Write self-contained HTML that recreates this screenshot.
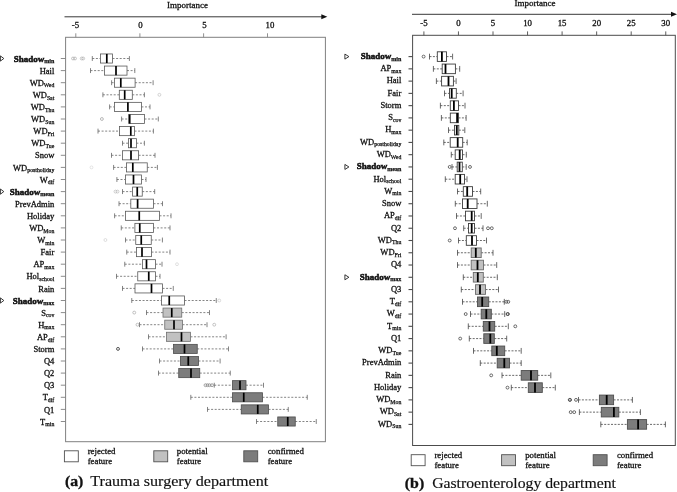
<!DOCTYPE html>
<html><head><meta charset="utf-8"><title>Feature importance</title>
<style>
html,body{margin:0;padding:0;background:#fff;}
body{width:677px;height:492px;overflow:hidden;font-family:"Liberation Serif", serif;}
svg{display:block;will-change:transform;}
text{font-family:"Liberation Serif", serif;}
</style></head><body>
<svg width="677" height="492" viewBox="0 0 677 492" font-family='"Liberation Serif", serif' fill="#111">
<rect width="677" height="492" fill="#fff"/>
<rect x="65.6" y="37.3" width="259.79999999999995" height="404.4" fill="none" stroke="#808080" stroke-width="1"/>
<line x1="60.8" y1="58.50" x2="65.6" y2="58.50" stroke="#808080" stroke-width="0.9"/>
<line x1="92.3" y1="58.50" x2="100.4" y2="58.50" stroke="#646464" stroke-width="0.8" stroke-dasharray="2 1.6"/>
<line x1="112.5" y1="58.50" x2="129.4" y2="58.50" stroke="#646464" stroke-width="0.8" stroke-dasharray="2 1.6"/>
<line x1="92.3" y1="56.05" x2="92.3" y2="60.95" stroke="#646464" stroke-width="0.8"/>
<line x1="129.4" y1="56.05" x2="129.4" y2="60.95" stroke="#646464" stroke-width="0.8"/>
<rect x="100.4" y="53.95" width="12.10" height="9.1" fill="#ffffff" stroke="#585858" stroke-width="0.8"/>
<line x1="106.8" y1="53.95" x2="106.8" y2="63.05" stroke="#000" stroke-width="1.7"/>
<circle cx="73" cy="58.50" r="1.45" fill="none" stroke="#a0a0a0" stroke-width="0.6"/>
<circle cx="75" cy="58.50" r="1.45" fill="none" stroke="#a0a0a0" stroke-width="0.6"/>
<circle cx="81.7" cy="58.50" r="1.45" fill="none" stroke="#a8a8a8" stroke-width="0.6"/>
<circle cx="83.2" cy="58.50" r="1.45" fill="none" stroke="#a8a8a8" stroke-width="0.6"/>
<text x="54.3" y="61.60" text-anchor="end" font-size="9.0" font-weight="bold" stroke="#111" stroke-width="0.5">Shadow<tspan dy="1.6" font-size="6.0" stroke-width="0.25">min</tspan></text>
<path d="M0.4 55.90 L3.8 58.50 L0.4 61.10 Z" fill="none" stroke="#222" stroke-width="0.9"/>
<line x1="60.8" y1="70.60" x2="65.6" y2="70.60" stroke="#808080" stroke-width="0.9"/>
<line x1="90.5" y1="70.60" x2="104.5" y2="70.60" stroke="#646464" stroke-width="0.8" stroke-dasharray="2 1.6"/>
<line x1="127" y1="70.60" x2="134.8" y2="70.60" stroke="#646464" stroke-width="0.8" stroke-dasharray="2 1.6"/>
<line x1="90.5" y1="68.15" x2="90.5" y2="73.05" stroke="#646464" stroke-width="0.8"/>
<line x1="134.8" y1="68.15" x2="134.8" y2="73.05" stroke="#646464" stroke-width="0.8"/>
<rect x="104.5" y="66.05" width="22.50" height="9.1" fill="#ffffff" stroke="#585858" stroke-width="0.8"/>
<line x1="116" y1="66.05" x2="116" y2="75.15" stroke="#000" stroke-width="1.7"/>
<text x="54.3" y="73.70" text-anchor="end" font-size="8.5" stroke="#111" stroke-width="0.3">Hail</text>
<line x1="60.8" y1="82.70" x2="65.6" y2="82.70" stroke="#808080" stroke-width="0.9"/>
<line x1="111.6" y1="82.70" x2="114.4" y2="82.70" stroke="#646464" stroke-width="0.8" stroke-dasharray="2 1.6"/>
<line x1="135.1" y1="82.70" x2="153.1" y2="82.70" stroke="#646464" stroke-width="0.8" stroke-dasharray="2 1.6"/>
<line x1="111.6" y1="80.25" x2="111.6" y2="85.15" stroke="#646464" stroke-width="0.8"/>
<line x1="153.1" y1="80.25" x2="153.1" y2="85.15" stroke="#646464" stroke-width="0.8"/>
<rect x="114.4" y="78.15" width="20.70" height="9.1" fill="#ffffff" stroke="#585858" stroke-width="0.8"/>
<line x1="120.8" y1="78.15" x2="120.8" y2="87.25" stroke="#000" stroke-width="1.7"/>
<text x="54.3" y="85.80" text-anchor="end" font-size="8.5" stroke="#111" stroke-width="0.3">WD<tspan dy="1.6" font-size="5.8" stroke-width="0.25">Wed</tspan></text>
<line x1="60.8" y1="94.80" x2="65.6" y2="94.80" stroke="#808080" stroke-width="0.9"/>
<line x1="102.9" y1="94.80" x2="119.3" y2="94.80" stroke="#646464" stroke-width="0.8" stroke-dasharray="2 1.6"/>
<line x1="132.3" y1="94.80" x2="144.4" y2="94.80" stroke="#646464" stroke-width="0.8" stroke-dasharray="2 1.6"/>
<line x1="102.9" y1="92.35" x2="102.9" y2="97.25" stroke="#646464" stroke-width="0.8"/>
<line x1="144.4" y1="92.35" x2="144.4" y2="97.25" stroke="#646464" stroke-width="0.8"/>
<rect x="119.3" y="90.25" width="13.00" height="9.1" fill="#ffffff" stroke="#585858" stroke-width="0.8"/>
<line x1="124.7" y1="90.25" x2="124.7" y2="99.35" stroke="#000" stroke-width="1.7"/>
<circle cx="159.4" cy="94.80" r="1.45" fill="none" stroke="#b8b8b8" stroke-width="0.6"/>
<text x="54.3" y="97.90" text-anchor="end" font-size="8.5" stroke="#111" stroke-width="0.3">WD<tspan dy="1.6" font-size="5.8" stroke-width="0.25">Sat</tspan></text>
<line x1="60.8" y1="106.90" x2="65.6" y2="106.90" stroke="#808080" stroke-width="0.9"/>
<line x1="109.6" y1="106.90" x2="114.4" y2="106.90" stroke="#646464" stroke-width="0.8" stroke-dasharray="2 1.6"/>
<line x1="141.4" y1="106.90" x2="150" y2="106.90" stroke="#646464" stroke-width="0.8" stroke-dasharray="2 1.6"/>
<line x1="109.6" y1="104.45" x2="109.6" y2="109.35" stroke="#646464" stroke-width="0.8"/>
<line x1="150" y1="104.45" x2="150" y2="109.35" stroke="#646464" stroke-width="0.8"/>
<rect x="114.4" y="102.35" width="27.00" height="9.1" fill="#ffffff" stroke="#585858" stroke-width="0.8"/>
<line x1="127.9" y1="102.35" x2="127.9" y2="111.45" stroke="#000" stroke-width="1.7"/>
<text x="54.3" y="110.00" text-anchor="end" font-size="8.5" stroke="#111" stroke-width="0.3">WD<tspan dy="1.6" font-size="5.8" stroke-width="0.25">Thu</tspan></text>
<line x1="60.8" y1="119.00" x2="65.6" y2="119.00" stroke="#808080" stroke-width="0.9"/>
<line x1="121.6" y1="119.00" x2="128.7" y2="119.00" stroke="#646464" stroke-width="0.8" stroke-dasharray="2 1.6"/>
<line x1="144.5" y1="119.00" x2="158.3" y2="119.00" stroke="#646464" stroke-width="0.8" stroke-dasharray="2 1.6"/>
<line x1="121.6" y1="116.55" x2="121.6" y2="121.45" stroke="#646464" stroke-width="0.8"/>
<line x1="158.3" y1="116.55" x2="158.3" y2="121.45" stroke="#646464" stroke-width="0.8"/>
<rect x="128.7" y="114.45" width="15.80" height="9.1" fill="#ffffff" stroke="#585858" stroke-width="0.8"/>
<line x1="129.7" y1="114.45" x2="129.7" y2="123.55" stroke="#000" stroke-width="1.7"/>
<circle cx="101.9" cy="119.00" r="1.45" fill="none" stroke="#8c8c8c" stroke-width="0.6"/>
<text x="54.3" y="122.10" text-anchor="end" font-size="8.5" stroke="#111" stroke-width="0.3">WD<tspan dy="1.6" font-size="5.8" stroke-width="0.25">Sun</tspan></text>
<line x1="60.8" y1="131.10" x2="65.6" y2="131.10" stroke="#808080" stroke-width="0.9"/>
<line x1="98" y1="131.10" x2="119.5" y2="131.10" stroke="#646464" stroke-width="0.8" stroke-dasharray="2 1.6"/>
<line x1="134.5" y1="131.10" x2="153.4" y2="131.10" stroke="#646464" stroke-width="0.8" stroke-dasharray="2 1.6"/>
<line x1="98" y1="128.65" x2="98" y2="133.55" stroke="#646464" stroke-width="0.8"/>
<line x1="153.4" y1="128.65" x2="153.4" y2="133.55" stroke="#646464" stroke-width="0.8"/>
<rect x="119.5" y="126.55" width="15.00" height="9.1" fill="#ffffff" stroke="#585858" stroke-width="0.8"/>
<line x1="130.8" y1="126.55" x2="130.8" y2="135.65" stroke="#000" stroke-width="1.7"/>
<text x="54.3" y="134.20" text-anchor="end" font-size="8.5" stroke="#111" stroke-width="0.3">WD<tspan dy="1.6" font-size="5.8" stroke-width="0.25">Fri</tspan></text>
<line x1="60.8" y1="143.20" x2="65.6" y2="143.20" stroke="#808080" stroke-width="0.9"/>
<line x1="122.5" y1="143.20" x2="128.4" y2="143.20" stroke="#646464" stroke-width="0.8" stroke-dasharray="2 1.6"/>
<line x1="136.4" y1="143.20" x2="144.4" y2="143.20" stroke="#646464" stroke-width="0.8" stroke-dasharray="2 1.6"/>
<line x1="122.5" y1="140.75" x2="122.5" y2="145.65" stroke="#646464" stroke-width="0.8"/>
<line x1="144.4" y1="140.75" x2="144.4" y2="145.65" stroke="#646464" stroke-width="0.8"/>
<rect x="128.4" y="138.65" width="8.00" height="9.1" fill="#ffffff" stroke="#585858" stroke-width="0.8"/>
<line x1="131" y1="138.65" x2="131" y2="147.75" stroke="#000" stroke-width="1.7"/>
<text x="54.3" y="146.30" text-anchor="end" font-size="8.5" stroke="#111" stroke-width="0.3">WD<tspan dy="1.6" font-size="5.8" stroke-width="0.25">Tue</tspan></text>
<line x1="60.8" y1="155.30" x2="65.6" y2="155.30" stroke="#808080" stroke-width="0.9"/>
<line x1="111.5" y1="155.30" x2="122.5" y2="155.30" stroke="#646464" stroke-width="0.8" stroke-dasharray="2 1.6"/>
<line x1="138.6" y1="155.30" x2="155" y2="155.30" stroke="#646464" stroke-width="0.8" stroke-dasharray="2 1.6"/>
<line x1="111.5" y1="152.85" x2="111.5" y2="157.75" stroke="#646464" stroke-width="0.8"/>
<line x1="155" y1="152.85" x2="155" y2="157.75" stroke="#646464" stroke-width="0.8"/>
<rect x="122.5" y="150.75" width="16.10" height="9.1" fill="#ffffff" stroke="#585858" stroke-width="0.8"/>
<line x1="131" y1="150.75" x2="131" y2="159.85" stroke="#000" stroke-width="1.7"/>
<text x="54.3" y="158.40" text-anchor="end" font-size="8.5" stroke="#111" stroke-width="0.3">Snow</text>
<line x1="60.8" y1="167.40" x2="65.6" y2="167.40" stroke="#808080" stroke-width="0.9"/>
<line x1="113.6" y1="167.40" x2="126.5" y2="167.40" stroke="#646464" stroke-width="0.8" stroke-dasharray="2 1.6"/>
<line x1="147.25" y1="167.40" x2="157.4" y2="167.40" stroke="#646464" stroke-width="0.8" stroke-dasharray="2 1.6"/>
<line x1="113.6" y1="164.95" x2="113.6" y2="169.85" stroke="#646464" stroke-width="0.8"/>
<line x1="157.4" y1="164.95" x2="157.4" y2="169.85" stroke="#646464" stroke-width="0.8"/>
<rect x="126.5" y="162.85" width="20.75" height="9.1" fill="#ffffff" stroke="#585858" stroke-width="0.8"/>
<line x1="132.8" y1="162.85" x2="132.8" y2="171.95" stroke="#000" stroke-width="1.7"/>
<circle cx="91.5" cy="167.40" r="1.45" fill="none" stroke="#d4d4d4" stroke-width="0.6"/>
<text x="54.3" y="170.50" text-anchor="end" font-size="8.5" stroke="#111" stroke-width="0.3">WD<tspan dy="1.6" font-size="5.8" stroke-width="0.25">postholiday</tspan></text>
<line x1="60.8" y1="179.50" x2="65.6" y2="179.50" stroke="#808080" stroke-width="0.9"/>
<line x1="116.9" y1="179.50" x2="125.5" y2="179.50" stroke="#646464" stroke-width="0.8" stroke-dasharray="2 1.6"/>
<line x1="141.5" y1="179.50" x2="146" y2="179.50" stroke="#646464" stroke-width="0.8" stroke-dasharray="2 1.6"/>
<line x1="116.9" y1="177.05" x2="116.9" y2="181.95" stroke="#646464" stroke-width="0.8"/>
<line x1="146" y1="177.05" x2="146" y2="181.95" stroke="#646464" stroke-width="0.8"/>
<rect x="125.5" y="174.95" width="16.00" height="9.1" fill="#ffffff" stroke="#585858" stroke-width="0.8"/>
<line x1="133.5" y1="174.95" x2="133.5" y2="184.05" stroke="#000" stroke-width="1.7"/>
<text x="54.3" y="182.60" text-anchor="end" font-size="8.5" stroke="#111" stroke-width="0.3">W<tspan dy="1.6" font-size="5.8" stroke-width="0.25">dif</tspan></text>
<line x1="60.8" y1="191.60" x2="65.6" y2="191.60" stroke="#808080" stroke-width="0.9"/>
<line x1="122.5" y1="191.60" x2="132.6" y2="191.60" stroke="#646464" stroke-width="0.8" stroke-dasharray="2 1.6"/>
<line x1="142.25" y1="191.60" x2="154.7" y2="191.60" stroke="#646464" stroke-width="0.8" stroke-dasharray="2 1.6"/>
<line x1="122.5" y1="189.15" x2="122.5" y2="194.05" stroke="#646464" stroke-width="0.8"/>
<line x1="154.7" y1="189.15" x2="154.7" y2="194.05" stroke="#646464" stroke-width="0.8"/>
<rect x="132.6" y="187.05" width="9.65" height="9.1" fill="#ffffff" stroke="#585858" stroke-width="0.8"/>
<line x1="137.25" y1="187.05" x2="137.25" y2="196.15" stroke="#000" stroke-width="1.7"/>
<circle cx="115.5" cy="191.60" r="1.45" fill="none" stroke="#b0b0b0" stroke-width="0.6"/>
<circle cx="117.5" cy="191.60" r="1.45" fill="none" stroke="#b0b0b0" stroke-width="0.6"/>
<text x="54.3" y="194.70" text-anchor="end" font-size="9.0" font-weight="bold" stroke="#111" stroke-width="0.5">Shadow<tspan dy="1.6" font-size="6.0" stroke-width="0.25">mean</tspan></text>
<path d="M0.4 189.00 L3.8 191.60 L0.4 194.20 Z" fill="none" stroke="#222" stroke-width="0.9"/>
<line x1="60.8" y1="203.70" x2="65.6" y2="203.70" stroke="#808080" stroke-width="0.9"/>
<line x1="119" y1="203.70" x2="130.8" y2="203.70" stroke="#646464" stroke-width="0.8" stroke-dasharray="2 1.6"/>
<line x1="153.5" y1="203.70" x2="162.5" y2="203.70" stroke="#646464" stroke-width="0.8" stroke-dasharray="2 1.6"/>
<line x1="119" y1="201.25" x2="119" y2="206.15" stroke="#646464" stroke-width="0.8"/>
<line x1="162.5" y1="201.25" x2="162.5" y2="206.15" stroke="#646464" stroke-width="0.8"/>
<rect x="130.8" y="199.15" width="22.70" height="9.1" fill="#ffffff" stroke="#585858" stroke-width="0.8"/>
<line x1="137.6" y1="199.15" x2="137.6" y2="208.25" stroke="#000" stroke-width="1.7"/>
<text x="54.3" y="206.80" text-anchor="end" font-size="8.5" stroke="#111" stroke-width="0.3">PrevAdmin</text>
<line x1="60.8" y1="215.80" x2="65.6" y2="215.80" stroke="#808080" stroke-width="0.9"/>
<line x1="114.6" y1="215.80" x2="125.5" y2="215.80" stroke="#646464" stroke-width="0.8" stroke-dasharray="2 1.6"/>
<line x1="159.5" y1="215.80" x2="171" y2="215.80" stroke="#646464" stroke-width="0.8" stroke-dasharray="2 1.6"/>
<line x1="114.6" y1="213.35" x2="114.6" y2="218.25" stroke="#646464" stroke-width="0.8"/>
<line x1="171" y1="213.35" x2="171" y2="218.25" stroke="#646464" stroke-width="0.8"/>
<rect x="125.5" y="211.25" width="34.00" height="9.1" fill="#ffffff" stroke="#585858" stroke-width="0.8"/>
<line x1="139.25" y1="211.25" x2="139.25" y2="220.35" stroke="#000" stroke-width="1.7"/>
<text x="54.3" y="218.90" text-anchor="end" font-size="8.5" stroke="#111" stroke-width="0.3">Holiday</text>
<line x1="60.8" y1="227.90" x2="65.6" y2="227.90" stroke="#808080" stroke-width="0.9"/>
<line x1="121.25" y1="227.90" x2="134.9" y2="227.90" stroke="#646464" stroke-width="0.8" stroke-dasharray="2 1.6"/>
<line x1="153.4" y1="227.90" x2="170" y2="227.90" stroke="#646464" stroke-width="0.8" stroke-dasharray="2 1.6"/>
<line x1="121.25" y1="225.45" x2="121.25" y2="230.35" stroke="#646464" stroke-width="0.8"/>
<line x1="170" y1="225.45" x2="170" y2="230.35" stroke="#646464" stroke-width="0.8"/>
<rect x="134.9" y="223.35" width="18.50" height="9.1" fill="#ffffff" stroke="#585858" stroke-width="0.8"/>
<line x1="139.75" y1="223.35" x2="139.75" y2="232.45" stroke="#000" stroke-width="1.7"/>
<text x="54.3" y="231.00" text-anchor="end" font-size="8.5" stroke="#111" stroke-width="0.3">WD<tspan dy="1.6" font-size="5.8" stroke-width="0.25">Mon</tspan></text>
<line x1="60.8" y1="240.00" x2="65.6" y2="240.00" stroke="#808080" stroke-width="0.9"/>
<line x1="125.5" y1="240.00" x2="135.75" y2="240.00" stroke="#646464" stroke-width="0.8" stroke-dasharray="2 1.6"/>
<line x1="151.25" y1="240.00" x2="162.4" y2="240.00" stroke="#646464" stroke-width="0.8" stroke-dasharray="2 1.6"/>
<line x1="125.5" y1="237.55" x2="125.5" y2="242.45" stroke="#646464" stroke-width="0.8"/>
<line x1="162.4" y1="237.55" x2="162.4" y2="242.45" stroke="#646464" stroke-width="0.8"/>
<rect x="135.75" y="235.45" width="15.50" height="9.1" fill="#ffffff" stroke="#585858" stroke-width="0.8"/>
<line x1="141.25" y1="235.45" x2="141.25" y2="244.55" stroke="#000" stroke-width="1.7"/>
<circle cx="105.4" cy="240.00" r="1.45" fill="none" stroke="#c8c8c8" stroke-width="0.6"/>
<text x="54.3" y="243.10" text-anchor="end" font-size="8.5" stroke="#111" stroke-width="0.3">W<tspan dy="1.6" font-size="5.8" stroke-width="0.25">min</tspan></text>
<line x1="60.8" y1="252.10" x2="65.6" y2="252.10" stroke="#808080" stroke-width="0.9"/>
<line x1="126.75" y1="252.10" x2="136.5" y2="252.10" stroke="#646464" stroke-width="0.8" stroke-dasharray="2 1.6"/>
<line x1="151.5" y1="252.10" x2="170" y2="252.10" stroke="#646464" stroke-width="0.8" stroke-dasharray="2 1.6"/>
<line x1="126.75" y1="249.65" x2="126.75" y2="254.55" stroke="#646464" stroke-width="0.8"/>
<line x1="170" y1="249.65" x2="170" y2="254.55" stroke="#646464" stroke-width="0.8"/>
<rect x="136.5" y="247.55" width="15.00" height="9.1" fill="#ffffff" stroke="#585858" stroke-width="0.8"/>
<line x1="142" y1="247.55" x2="142" y2="256.65" stroke="#000" stroke-width="1.7"/>
<text x="54.3" y="255.20" text-anchor="end" font-size="8.5" stroke="#111" stroke-width="0.3">Fair</text>
<line x1="60.8" y1="264.20" x2="65.6" y2="264.20" stroke="#808080" stroke-width="0.9"/>
<line x1="124.75" y1="264.20" x2="142.5" y2="264.20" stroke="#646464" stroke-width="0.8" stroke-dasharray="2 1.6"/>
<line x1="155.5" y1="264.20" x2="162" y2="264.20" stroke="#646464" stroke-width="0.8" stroke-dasharray="2 1.6"/>
<line x1="124.75" y1="261.75" x2="124.75" y2="266.65" stroke="#646464" stroke-width="0.8"/>
<line x1="162" y1="261.75" x2="162" y2="266.65" stroke="#646464" stroke-width="0.8"/>
<rect x="142.5" y="259.65" width="13.00" height="9.1" fill="#ffffff" stroke="#585858" stroke-width="0.8"/>
<line x1="146.5" y1="259.65" x2="146.5" y2="268.75" stroke="#000" stroke-width="1.7"/>
<circle cx="177" cy="264.20" r="1.45" fill="none" stroke="#cccccc" stroke-width="0.6"/>
<text x="54.3" y="267.30" text-anchor="end" font-size="8.5" stroke="#111" stroke-width="0.3">AP<tspan dy="1.6" font-size="5.8" stroke-width="0.25">max</tspan></text>
<line x1="60.8" y1="276.30" x2="65.6" y2="276.30" stroke="#808080" stroke-width="0.9"/>
<line x1="116.5" y1="276.30" x2="137.75" y2="276.30" stroke="#646464" stroke-width="0.8" stroke-dasharray="2 1.6"/>
<line x1="155.5" y1="276.30" x2="160" y2="276.30" stroke="#646464" stroke-width="0.8" stroke-dasharray="2 1.6"/>
<line x1="116.5" y1="273.85" x2="116.5" y2="278.75" stroke="#646464" stroke-width="0.8"/>
<line x1="160" y1="273.85" x2="160" y2="278.75" stroke="#646464" stroke-width="0.8"/>
<rect x="137.75" y="271.75" width="17.75" height="9.1" fill="#ffffff" stroke="#585858" stroke-width="0.8"/>
<line x1="148.75" y1="271.75" x2="148.75" y2="280.85" stroke="#000" stroke-width="1.7"/>
<text x="54.3" y="279.40" text-anchor="end" font-size="8.5" stroke="#111" stroke-width="0.3">Hol<tspan dy="1.6" font-size="5.8" stroke-width="0.25">school</tspan></text>
<line x1="60.8" y1="288.40" x2="65.6" y2="288.40" stroke="#808080" stroke-width="0.9"/>
<line x1="122.5" y1="288.40" x2="135" y2="288.40" stroke="#646464" stroke-width="0.8" stroke-dasharray="2 1.6"/>
<line x1="162.5" y1="288.40" x2="173.25" y2="288.40" stroke="#646464" stroke-width="0.8" stroke-dasharray="2 1.6"/>
<line x1="122.5" y1="285.95" x2="122.5" y2="290.85" stroke="#646464" stroke-width="0.8"/>
<line x1="173.25" y1="285.95" x2="173.25" y2="290.85" stroke="#646464" stroke-width="0.8"/>
<rect x="135" y="283.85" width="27.50" height="9.1" fill="#ffffff" stroke="#585858" stroke-width="0.8"/>
<line x1="151.5" y1="283.85" x2="151.5" y2="292.95" stroke="#000" stroke-width="1.7"/>
<text x="54.3" y="291.50" text-anchor="end" font-size="8.5" stroke="#111" stroke-width="0.3">Rain</text>
<line x1="60.8" y1="300.50" x2="65.6" y2="300.50" stroke="#808080" stroke-width="0.9"/>
<line x1="131.75" y1="300.50" x2="161.5" y2="300.50" stroke="#646464" stroke-width="0.8" stroke-dasharray="2 1.6"/>
<line x1="184.5" y1="300.50" x2="216.25" y2="300.50" stroke="#646464" stroke-width="0.8" stroke-dasharray="2 1.6"/>
<line x1="131.75" y1="298.05" x2="131.75" y2="302.95" stroke="#646464" stroke-width="0.8"/>
<line x1="216.25" y1="298.05" x2="216.25" y2="302.95" stroke="#646464" stroke-width="0.8"/>
<rect x="161.5" y="295.95" width="23.00" height="9.1" fill="#ffffff" stroke="#585858" stroke-width="0.8"/>
<line x1="169.25" y1="295.95" x2="169.25" y2="305.05" stroke="#000" stroke-width="1.7"/>
<circle cx="219.25" cy="300.50" r="1.45" fill="none" stroke="#c0c0c0" stroke-width="0.6"/>
<text x="54.3" y="303.60" text-anchor="end" font-size="9.0" font-weight="bold" stroke="#111" stroke-width="0.5">Shadow<tspan dy="1.6" font-size="6.0" stroke-width="0.25">max</tspan></text>
<path d="M0.4 297.90 L3.8 300.50 L0.4 303.10 Z" fill="none" stroke="#222" stroke-width="0.9"/>
<line x1="60.8" y1="312.60" x2="65.6" y2="312.60" stroke="#808080" stroke-width="0.9"/>
<line x1="146.5" y1="312.60" x2="163" y2="312.60" stroke="#646464" stroke-width="0.8" stroke-dasharray="2 1.6"/>
<line x1="181.75" y1="312.60" x2="209.5" y2="312.60" stroke="#646464" stroke-width="0.8" stroke-dasharray="2 1.6"/>
<line x1="146.5" y1="310.15" x2="146.5" y2="315.05" stroke="#646464" stroke-width="0.8"/>
<line x1="209.5" y1="310.15" x2="209.5" y2="315.05" stroke="#646464" stroke-width="0.8"/>
<rect x="163" y="308.05" width="18.75" height="9.1" fill="#c1c1c1" stroke="#6e6e6e" stroke-width="0.8"/>
<line x1="171.75" y1="308.05" x2="171.75" y2="317.15" stroke="#000" stroke-width="1.7"/>
<circle cx="134.25" cy="312.60" r="1.45" fill="none" stroke="#9a9a9a" stroke-width="0.6"/>
<text x="54.3" y="315.70" text-anchor="end" font-size="8.5" stroke="#111" stroke-width="0.3">S<tspan dy="1.6" font-size="5.8" stroke-width="0.25">cov</tspan></text>
<line x1="60.8" y1="324.70" x2="65.6" y2="324.70" stroke="#808080" stroke-width="0.9"/>
<line x1="139.5" y1="324.70" x2="164.75" y2="324.70" stroke="#646464" stroke-width="0.8" stroke-dasharray="2 1.6"/>
<line x1="182.5" y1="324.70" x2="207" y2="324.70" stroke="#646464" stroke-width="0.8" stroke-dasharray="2 1.6"/>
<line x1="139.5" y1="322.25" x2="139.5" y2="327.15" stroke="#646464" stroke-width="0.8"/>
<line x1="207" y1="322.25" x2="207" y2="327.15" stroke="#646464" stroke-width="0.8"/>
<rect x="164.75" y="320.15" width="17.75" height="9.1" fill="#c1c1c1" stroke="#6e6e6e" stroke-width="0.8"/>
<line x1="174" y1="320.15" x2="174" y2="329.25" stroke="#000" stroke-width="1.7"/>
<circle cx="137.5" cy="324.70" r="1.45" fill="none" stroke="#9a9a9a" stroke-width="0.6"/>
<circle cx="214.25" cy="324.70" r="1.45" fill="none" stroke="#a0a0a0" stroke-width="0.6"/>
<text x="54.3" y="327.80" text-anchor="end" font-size="8.5" stroke="#111" stroke-width="0.3">H<tspan dy="1.6" font-size="5.8" stroke-width="0.25">max</tspan></text>
<line x1="60.8" y1="336.80" x2="65.6" y2="336.80" stroke="#808080" stroke-width="0.9"/>
<line x1="148.5" y1="336.80" x2="166.5" y2="336.80" stroke="#646464" stroke-width="0.8" stroke-dasharray="2 1.6"/>
<line x1="190.5" y1="336.80" x2="226.1" y2="336.80" stroke="#646464" stroke-width="0.8" stroke-dasharray="2 1.6"/>
<line x1="148.5" y1="334.35" x2="148.5" y2="339.25" stroke="#646464" stroke-width="0.8"/>
<line x1="226.1" y1="334.35" x2="226.1" y2="339.25" stroke="#646464" stroke-width="0.8"/>
<rect x="166.5" y="332.25" width="24.00" height="9.1" fill="#c1c1c1" stroke="#6e6e6e" stroke-width="0.8"/>
<line x1="181.5" y1="332.25" x2="181.5" y2="341.35" stroke="#000" stroke-width="1.7"/>
<text x="54.3" y="339.90" text-anchor="end" font-size="8.5" stroke="#111" stroke-width="0.3">AP<tspan dy="1.6" font-size="5.8" stroke-width="0.25">dif</tspan></text>
<line x1="60.8" y1="348.90" x2="65.6" y2="348.90" stroke="#808080" stroke-width="0.9"/>
<line x1="142.5" y1="348.90" x2="173.5" y2="348.90" stroke="#646464" stroke-width="0.8" stroke-dasharray="2 1.6"/>
<line x1="197.25" y1="348.90" x2="228.5" y2="348.90" stroke="#646464" stroke-width="0.8" stroke-dasharray="2 1.6"/>
<line x1="142.5" y1="346.45" x2="142.5" y2="351.35" stroke="#646464" stroke-width="0.8"/>
<line x1="228.5" y1="346.45" x2="228.5" y2="351.35" stroke="#646464" stroke-width="0.8"/>
<rect x="173.5" y="344.35" width="23.75" height="9.1" fill="#7c7c7c" stroke="#4c4c4c" stroke-width="0.8"/>
<line x1="184.5" y1="344.35" x2="184.5" y2="353.45" stroke="#000" stroke-width="1.7"/>
<circle cx="118" cy="348.90" r="1.45" fill="none" stroke="#444" stroke-width="0.9"/>
<text x="54.3" y="352.00" text-anchor="end" font-size="8.5" stroke="#111" stroke-width="0.3">Storm</text>
<line x1="60.8" y1="361.00" x2="65.6" y2="361.00" stroke="#808080" stroke-width="0.9"/>
<line x1="159.5" y1="361.00" x2="180.4" y2="361.00" stroke="#646464" stroke-width="0.8" stroke-dasharray="2 1.6"/>
<line x1="198.5" y1="361.00" x2="220.1" y2="361.00" stroke="#646464" stroke-width="0.8" stroke-dasharray="2 1.6"/>
<line x1="159.5" y1="358.55" x2="159.5" y2="363.45" stroke="#646464" stroke-width="0.8"/>
<line x1="220.1" y1="358.55" x2="220.1" y2="363.45" stroke="#646464" stroke-width="0.8"/>
<rect x="180.4" y="356.45" width="18.10" height="9.1" fill="#7c7c7c" stroke="#4c4c4c" stroke-width="0.8"/>
<line x1="188.25" y1="356.45" x2="188.25" y2="365.55" stroke="#000" stroke-width="1.7"/>
<text x="54.3" y="364.10" text-anchor="end" font-size="8.5" stroke="#111" stroke-width="0.3">Q4</text>
<line x1="60.8" y1="373.10" x2="65.6" y2="373.10" stroke="#808080" stroke-width="0.9"/>
<line x1="158.5" y1="373.10" x2="178.75" y2="373.10" stroke="#646464" stroke-width="0.8" stroke-dasharray="2 1.6"/>
<line x1="199.75" y1="373.10" x2="230.25" y2="373.10" stroke="#646464" stroke-width="0.8" stroke-dasharray="2 1.6"/>
<line x1="158.5" y1="370.65" x2="158.5" y2="375.55" stroke="#646464" stroke-width="0.8"/>
<line x1="230.25" y1="370.65" x2="230.25" y2="375.55" stroke="#646464" stroke-width="0.8"/>
<rect x="178.75" y="368.55" width="21.00" height="9.1" fill="#7c7c7c" stroke="#4c4c4c" stroke-width="0.8"/>
<line x1="191" y1="368.55" x2="191" y2="377.65" stroke="#000" stroke-width="1.7"/>
<text x="54.3" y="376.20" text-anchor="end" font-size="8.5" stroke="#111" stroke-width="0.3">Q2</text>
<line x1="60.8" y1="385.20" x2="65.6" y2="385.20" stroke="#808080" stroke-width="0.9"/>
<line x1="214.25" y1="385.20" x2="232.5" y2="385.20" stroke="#646464" stroke-width="0.8" stroke-dasharray="2 1.6"/>
<line x1="246" y1="385.20" x2="263.5" y2="385.20" stroke="#646464" stroke-width="0.8" stroke-dasharray="2 1.6"/>
<line x1="214.25" y1="382.75" x2="214.25" y2="387.65" stroke="#646464" stroke-width="0.8"/>
<line x1="263.5" y1="382.75" x2="263.5" y2="387.65" stroke="#646464" stroke-width="0.8"/>
<rect x="232.5" y="380.65" width="13.50" height="9.1" fill="#7c7c7c" stroke="#4c4c4c" stroke-width="0.8"/>
<line x1="240" y1="380.65" x2="240" y2="389.75" stroke="#000" stroke-width="1.7"/>
<circle cx="205.5" cy="385.20" r="1.45" fill="none" stroke="#808080" stroke-width="0.7"/>
<circle cx="207.5" cy="385.20" r="1.45" fill="none" stroke="#808080" stroke-width="0.7"/>
<circle cx="209.5" cy="385.20" r="1.45" fill="none" stroke="#808080" stroke-width="0.7"/>
<circle cx="212" cy="385.20" r="1.45" fill="none" stroke="#808080" stroke-width="0.7"/>
<text x="54.3" y="388.30" text-anchor="end" font-size="8.5" stroke="#111" stroke-width="0.3">Q3</text>
<line x1="60.8" y1="397.30" x2="65.6" y2="397.30" stroke="#808080" stroke-width="0.9"/>
<line x1="190.8" y1="397.30" x2="232.5" y2="397.30" stroke="#646464" stroke-width="0.8" stroke-dasharray="2 1.6"/>
<line x1="262.5" y1="397.30" x2="307.25" y2="397.30" stroke="#646464" stroke-width="0.8" stroke-dasharray="2 1.6"/>
<line x1="190.8" y1="394.85" x2="190.8" y2="399.75" stroke="#646464" stroke-width="0.8"/>
<line x1="307.25" y1="394.85" x2="307.25" y2="399.75" stroke="#646464" stroke-width="0.8"/>
<rect x="232.5" y="392.75" width="30.00" height="9.1" fill="#7c7c7c" stroke="#4c4c4c" stroke-width="0.8"/>
<line x1="243.75" y1="392.75" x2="243.75" y2="401.85" stroke="#000" stroke-width="1.7"/>
<text x="54.3" y="400.40" text-anchor="end" font-size="8.5" stroke="#111" stroke-width="0.3">T<tspan dy="1.6" font-size="5.8" stroke-width="0.25">dif</tspan></text>
<line x1="60.8" y1="409.40" x2="65.6" y2="409.40" stroke="#808080" stroke-width="0.9"/>
<line x1="207.5" y1="409.40" x2="241.25" y2="409.40" stroke="#646464" stroke-width="0.8" stroke-dasharray="2 1.6"/>
<line x1="268.5" y1="409.40" x2="288.25" y2="409.40" stroke="#646464" stroke-width="0.8" stroke-dasharray="2 1.6"/>
<line x1="207.5" y1="406.95" x2="207.5" y2="411.85" stroke="#646464" stroke-width="0.8"/>
<line x1="288.25" y1="406.95" x2="288.25" y2="411.85" stroke="#646464" stroke-width="0.8"/>
<rect x="241.25" y="404.85" width="27.25" height="9.1" fill="#7c7c7c" stroke="#4c4c4c" stroke-width="0.8"/>
<line x1="257.75" y1="404.85" x2="257.75" y2="413.95" stroke="#000" stroke-width="1.7"/>
<text x="54.3" y="412.50" text-anchor="end" font-size="8.5" stroke="#111" stroke-width="0.3">Q1</text>
<line x1="60.8" y1="421.50" x2="65.6" y2="421.50" stroke="#808080" stroke-width="0.9"/>
<line x1="256.5" y1="421.50" x2="277.75" y2="421.50" stroke="#646464" stroke-width="0.8" stroke-dasharray="2 1.6"/>
<line x1="295.25" y1="421.50" x2="316.25" y2="421.50" stroke="#646464" stroke-width="0.8" stroke-dasharray="2 1.6"/>
<line x1="256.5" y1="419.05" x2="256.5" y2="423.95" stroke="#646464" stroke-width="0.8"/>
<line x1="316.25" y1="419.05" x2="316.25" y2="423.95" stroke="#646464" stroke-width="0.8"/>
<rect x="277.75" y="416.95" width="17.50" height="9.1" fill="#7c7c7c" stroke="#4c4c4c" stroke-width="0.8"/>
<line x1="287.75" y1="416.95" x2="287.75" y2="426.05" stroke="#000" stroke-width="1.7"/>
<text x="54.3" y="424.60" text-anchor="end" font-size="8.5" stroke="#111" stroke-width="0.3">T<tspan dy="1.6" font-size="5.8" stroke-width="0.25">min</tspan></text>
<line x1="64.5" y1="16.8" x2="324" y2="16.8" stroke="#222" stroke-width="0.9"/>
<path d="M321.3 14.3 L327.3 16.8 L321.3 19.3 Z" fill="#111"/>
<line x1="75.8" y1="33.3" x2="75.8" y2="37.3" stroke="#858585" stroke-width="0.9"/>
<text x="75.5" y="28.2" text-anchor="middle" font-size="8.8" stroke="#111" stroke-width="0.3">-5</text>
<line x1="139.9" y1="33.3" x2="139.9" y2="37.3" stroke="#858585" stroke-width="0.9"/>
<text x="140.4" y="28.2" text-anchor="middle" font-size="8.8" stroke="#111" stroke-width="0.3">0</text>
<line x1="203.6" y1="33.3" x2="203.6" y2="37.3" stroke="#858585" stroke-width="0.9"/>
<text x="204.4" y="28.2" text-anchor="middle" font-size="8.8" stroke="#111" stroke-width="0.3">5</text>
<line x1="267.5" y1="33.3" x2="267.5" y2="37.3" stroke="#858585" stroke-width="0.9"/>
<text x="269.9" y="28.2" text-anchor="middle" font-size="8.8" stroke="#111" stroke-width="0.3">10</text>
<text x="187.4" y="7.8" text-anchor="middle" font-size="9.0" stroke="#111" stroke-width="0.3">Importance</text>
<rect x="412.6" y="35.3" width="262.69999999999993" height="410.2" fill="none" stroke="#4c4c4c" stroke-width="1"/>
<line x1="408.5" y1="56.60" x2="412.6" y2="56.60" stroke="#4c4c4c" stroke-width="1.1"/>
<line x1="429.5" y1="56.60" x2="437.3" y2="56.60" stroke="#444" stroke-width="0.8" stroke-dasharray="2 1.4"/>
<line x1="446.5" y1="56.60" x2="452.6" y2="56.60" stroke="#444" stroke-width="0.8" stroke-dasharray="2 1.4"/>
<line x1="429.5" y1="53.70" x2="429.5" y2="59.50" stroke="#444" stroke-width="0.8"/>
<line x1="452.6" y1="53.70" x2="452.6" y2="59.50" stroke="#444" stroke-width="0.8"/>
<rect x="437.3" y="51.80" width="9.20" height="9.6" fill="#ffffff" stroke="#3c3c3c" stroke-width="0.9"/>
<line x1="441.9" y1="51.80" x2="441.9" y2="61.40" stroke="#000" stroke-width="1.8"/>
<circle cx="423.6" cy="56.60" r="1.45" fill="none" stroke="#484848" stroke-width="0.8"/>
<text x="401.3" y="58.90" text-anchor="end" font-size="9.0" font-weight="bold" stroke="#111" stroke-width="0.5">Shadow<tspan dy="1.6" font-size="6.0" stroke-width="0.25">min</tspan></text>
<path d="M344.9 54.10 L348.9 56.60 L344.9 59.10 Z" fill="none" stroke="#222" stroke-width="0.9"/>
<line x1="408.5" y1="68.86" x2="412.6" y2="68.86" stroke="#4c4c4c" stroke-width="1.1"/>
<line x1="433.4" y1="68.86" x2="442.2" y2="68.86" stroke="#444" stroke-width="0.8" stroke-dasharray="2 1.4"/>
<line x1="455.4" y1="68.86" x2="459.7" y2="68.86" stroke="#444" stroke-width="0.8" stroke-dasharray="2 1.4"/>
<line x1="433.4" y1="65.96" x2="433.4" y2="71.76" stroke="#444" stroke-width="0.8"/>
<line x1="459.7" y1="65.96" x2="459.7" y2="71.76" stroke="#444" stroke-width="0.8"/>
<rect x="442.2" y="64.06" width="13.20" height="9.6" fill="#ffffff" stroke="#3c3c3c" stroke-width="0.9"/>
<line x1="445.5" y1="64.06" x2="445.5" y2="73.66" stroke="#000" stroke-width="1.8"/>
<text x="401.3" y="71.16" text-anchor="end" font-size="8.5" stroke="#111" stroke-width="0.3">AP<tspan dy="1.6" font-size="5.8" stroke-width="0.25">max</tspan></text>
<line x1="408.5" y1="81.12" x2="412.6" y2="81.12" stroke="#4c4c4c" stroke-width="1.1"/>
<line x1="436.4" y1="81.12" x2="441.6" y2="81.12" stroke="#444" stroke-width="0.8" stroke-dasharray="2 1.4"/>
<line x1="453.4" y1="81.12" x2="456.1" y2="81.12" stroke="#444" stroke-width="0.8" stroke-dasharray="2 1.4"/>
<line x1="436.4" y1="78.22" x2="436.4" y2="84.02" stroke="#444" stroke-width="0.8"/>
<line x1="456.1" y1="78.22" x2="456.1" y2="84.02" stroke="#444" stroke-width="0.8"/>
<rect x="441.6" y="76.32" width="11.80" height="9.6" fill="#ffffff" stroke="#3c3c3c" stroke-width="0.9"/>
<line x1="448.5" y1="76.32" x2="448.5" y2="85.92" stroke="#000" stroke-width="1.8"/>
<text x="401.3" y="83.42" text-anchor="end" font-size="8.5" stroke="#111" stroke-width="0.3">Hail</text>
<line x1="408.5" y1="93.38" x2="412.6" y2="93.38" stroke="#4c4c4c" stroke-width="1.1"/>
<line x1="444.5" y1="93.38" x2="449.5" y2="93.38" stroke="#444" stroke-width="0.8" stroke-dasharray="2 1.4"/>
<line x1="456.3" y1="93.38" x2="463.1" y2="93.38" stroke="#444" stroke-width="0.8" stroke-dasharray="2 1.4"/>
<line x1="444.5" y1="90.48" x2="444.5" y2="96.28" stroke="#444" stroke-width="0.8"/>
<line x1="463.1" y1="90.48" x2="463.1" y2="96.28" stroke="#444" stroke-width="0.8"/>
<rect x="449.5" y="88.58" width="6.80" height="9.6" fill="#ffffff" stroke="#3c3c3c" stroke-width="0.9"/>
<line x1="451.7" y1="88.58" x2="451.7" y2="98.18" stroke="#000" stroke-width="1.8"/>
<text x="401.3" y="95.68" text-anchor="end" font-size="8.5" stroke="#111" stroke-width="0.3">Fair</text>
<line x1="408.5" y1="105.64" x2="412.6" y2="105.64" stroke="#4c4c4c" stroke-width="1.1"/>
<line x1="440.4" y1="105.64" x2="450.3" y2="105.64" stroke="#444" stroke-width="0.8" stroke-dasharray="2 1.4"/>
<line x1="458.5" y1="105.64" x2="465" y2="105.64" stroke="#444" stroke-width="0.8" stroke-dasharray="2 1.4"/>
<line x1="440.4" y1="102.74" x2="440.4" y2="108.54" stroke="#444" stroke-width="0.8"/>
<line x1="465" y1="102.74" x2="465" y2="108.54" stroke="#444" stroke-width="0.8"/>
<rect x="450.3" y="100.84" width="8.20" height="9.6" fill="#ffffff" stroke="#3c3c3c" stroke-width="0.9"/>
<line x1="453.9" y1="100.84" x2="453.9" y2="110.44" stroke="#000" stroke-width="1.8"/>
<text x="401.3" y="107.94" text-anchor="end" font-size="8.5" stroke="#111" stroke-width="0.3">Storm</text>
<line x1="408.5" y1="117.90" x2="412.6" y2="117.90" stroke="#4c4c4c" stroke-width="1.1"/>
<line x1="441.4" y1="117.90" x2="450.3" y2="117.90" stroke="#444" stroke-width="0.8" stroke-dasharray="2 1.4"/>
<line x1="458.5" y1="117.90" x2="466.1" y2="117.90" stroke="#444" stroke-width="0.8" stroke-dasharray="2 1.4"/>
<line x1="441.4" y1="115.00" x2="441.4" y2="120.80" stroke="#444" stroke-width="0.8"/>
<line x1="466.1" y1="115.00" x2="466.1" y2="120.80" stroke="#444" stroke-width="0.8"/>
<rect x="450.3" y="113.10" width="8.20" height="9.6" fill="#ffffff" stroke="#3c3c3c" stroke-width="0.9"/>
<line x1="457.1" y1="113.10" x2="457.1" y2="122.70" stroke="#000" stroke-width="1.8"/>
<text x="401.3" y="120.20" text-anchor="end" font-size="8.5" stroke="#111" stroke-width="0.3">S<tspan dy="1.6" font-size="5.8" stroke-width="0.25">cov</tspan></text>
<line x1="408.5" y1="130.16" x2="412.6" y2="130.16" stroke="#4c4c4c" stroke-width="1.1"/>
<line x1="448.5" y1="130.16" x2="454.5" y2="130.16" stroke="#444" stroke-width="0.8" stroke-dasharray="2 1.4"/>
<line x1="458.8" y1="130.16" x2="464.8" y2="130.16" stroke="#444" stroke-width="0.8" stroke-dasharray="2 1.4"/>
<line x1="448.5" y1="127.26" x2="448.5" y2="133.06" stroke="#444" stroke-width="0.8"/>
<line x1="464.8" y1="127.26" x2="464.8" y2="133.06" stroke="#444" stroke-width="0.8"/>
<rect x="454.5" y="125.36" width="4.30" height="9.6" fill="#ffffff" stroke="#3c3c3c" stroke-width="0.9"/>
<line x1="456.8" y1="125.36" x2="456.8" y2="134.96" stroke="#000" stroke-width="1.8"/>
<text x="401.3" y="132.46" text-anchor="end" font-size="8.5" stroke="#111" stroke-width="0.3">H<tspan dy="1.6" font-size="5.8" stroke-width="0.25">max</tspan></text>
<line x1="408.5" y1="142.42" x2="412.6" y2="142.42" stroke="#4c4c4c" stroke-width="1.1"/>
<line x1="443.8" y1="142.42" x2="450.2" y2="142.42" stroke="#444" stroke-width="0.8" stroke-dasharray="2 1.4"/>
<line x1="462.7" y1="142.42" x2="467.2" y2="142.42" stroke="#444" stroke-width="0.8" stroke-dasharray="2 1.4"/>
<line x1="443.8" y1="139.52" x2="443.8" y2="145.32" stroke="#444" stroke-width="0.8"/>
<line x1="467.2" y1="139.52" x2="467.2" y2="145.32" stroke="#444" stroke-width="0.8"/>
<rect x="450.2" y="137.62" width="12.50" height="9.6" fill="#ffffff" stroke="#3c3c3c" stroke-width="0.9"/>
<line x1="457.7" y1="137.62" x2="457.7" y2="147.22" stroke="#000" stroke-width="1.8"/>
<text x="401.3" y="144.72" text-anchor="end" font-size="8.5" stroke="#111" stroke-width="0.3">WD<tspan dy="1.6" font-size="5.8" stroke-width="0.25">postholiday</tspan></text>
<line x1="408.5" y1="154.68" x2="412.6" y2="154.68" stroke="#4c4c4c" stroke-width="1.1"/>
<line x1="451.3" y1="154.68" x2="455.2" y2="154.68" stroke="#444" stroke-width="0.8" stroke-dasharray="2 1.4"/>
<line x1="462.5" y1="154.68" x2="466.3" y2="154.68" stroke="#444" stroke-width="0.8" stroke-dasharray="2 1.4"/>
<line x1="451.3" y1="151.78" x2="451.3" y2="157.58" stroke="#444" stroke-width="0.8"/>
<line x1="466.3" y1="151.78" x2="466.3" y2="157.58" stroke="#444" stroke-width="0.8"/>
<rect x="455.2" y="149.88" width="7.30" height="9.6" fill="#ffffff" stroke="#3c3c3c" stroke-width="0.9"/>
<line x1="459.7" y1="149.88" x2="459.7" y2="159.48" stroke="#000" stroke-width="1.8"/>
<text x="401.3" y="156.98" text-anchor="end" font-size="8.5" stroke="#111" stroke-width="0.3">WD<tspan dy="1.6" font-size="5.8" stroke-width="0.25">Wed</tspan></text>
<line x1="408.5" y1="166.94" x2="412.6" y2="166.94" stroke="#4c4c4c" stroke-width="1.1"/>
<line x1="452" y1="166.94" x2="457.2" y2="166.94" stroke="#444" stroke-width="0.8" stroke-dasharray="2 1.4"/>
<line x1="462.3" y1="166.94" x2="466.2" y2="166.94" stroke="#444" stroke-width="0.8" stroke-dasharray="2 1.4"/>
<line x1="452" y1="164.04" x2="452" y2="169.84" stroke="#444" stroke-width="0.8"/>
<line x1="466.2" y1="164.04" x2="466.2" y2="169.84" stroke="#444" stroke-width="0.8"/>
<rect x="457.2" y="162.14" width="5.10" height="9.6" fill="#ffffff" stroke="#3c3c3c" stroke-width="0.9"/>
<line x1="459.5" y1="162.14" x2="459.5" y2="171.74" stroke="#000" stroke-width="1.8"/>
<circle cx="449.7" cy="166.94" r="1.45" fill="none" stroke="#484848" stroke-width="0.8"/>
<circle cx="470" cy="166.94" r="1.45" fill="none" stroke="#484848" stroke-width="0.8"/>
<text x="401.3" y="169.24" text-anchor="end" font-size="9.0" font-weight="bold" stroke="#111" stroke-width="0.5">Shadow<tspan dy="1.6" font-size="6.0" stroke-width="0.25">mean</tspan></text>
<path d="M344.9 164.44 L348.9 166.94 L344.9 169.44 Z" fill="none" stroke="#222" stroke-width="0.9"/>
<line x1="408.5" y1="179.20" x2="412.6" y2="179.20" stroke="#4c4c4c" stroke-width="1.1"/>
<line x1="445.3" y1="179.20" x2="455.2" y2="179.20" stroke="#444" stroke-width="0.8" stroke-dasharray="2 1.4"/>
<line x1="464.5" y1="179.20" x2="467" y2="179.20" stroke="#444" stroke-width="0.8" stroke-dasharray="2 1.4"/>
<line x1="445.3" y1="176.30" x2="445.3" y2="182.10" stroke="#444" stroke-width="0.8"/>
<line x1="467" y1="176.30" x2="467" y2="182.10" stroke="#444" stroke-width="0.8"/>
<rect x="455.2" y="174.40" width="9.30" height="9.6" fill="#ffffff" stroke="#3c3c3c" stroke-width="0.9"/>
<line x1="460.2" y1="174.40" x2="460.2" y2="184.00" stroke="#000" stroke-width="1.8"/>
<text x="401.3" y="181.50" text-anchor="end" font-size="8.5" stroke="#111" stroke-width="0.3">Hol<tspan dy="1.6" font-size="5.8" stroke-width="0.25">school</tspan></text>
<line x1="408.5" y1="191.46" x2="412.6" y2="191.46" stroke="#4c4c4c" stroke-width="1.1"/>
<line x1="457.5" y1="191.46" x2="463.3" y2="191.46" stroke="#444" stroke-width="0.8" stroke-dasharray="2 1.4"/>
<line x1="472.5" y1="191.46" x2="480.7" y2="191.46" stroke="#444" stroke-width="0.8" stroke-dasharray="2 1.4"/>
<line x1="457.5" y1="188.56" x2="457.5" y2="194.36" stroke="#444" stroke-width="0.8"/>
<line x1="480.7" y1="188.56" x2="480.7" y2="194.36" stroke="#444" stroke-width="0.8"/>
<rect x="463.3" y="186.66" width="9.20" height="9.6" fill="#ffffff" stroke="#3c3c3c" stroke-width="0.9"/>
<line x1="467.2" y1="186.66" x2="467.2" y2="196.26" stroke="#000" stroke-width="1.8"/>
<text x="401.3" y="193.76" text-anchor="end" font-size="8.5" stroke="#111" stroke-width="0.3">W<tspan dy="1.6" font-size="5.8" stroke-width="0.25">min</tspan></text>
<line x1="408.5" y1="203.72" x2="412.6" y2="203.72" stroke="#4c4c4c" stroke-width="1.1"/>
<line x1="455.3" y1="203.72" x2="462.5" y2="203.72" stroke="#444" stroke-width="0.8" stroke-dasharray="2 1.4"/>
<line x1="477" y1="203.72" x2="487.3" y2="203.72" stroke="#444" stroke-width="0.8" stroke-dasharray="2 1.4"/>
<line x1="455.3" y1="200.82" x2="455.3" y2="206.62" stroke="#444" stroke-width="0.8"/>
<line x1="487.3" y1="200.82" x2="487.3" y2="206.62" stroke="#444" stroke-width="0.8"/>
<rect x="462.5" y="198.92" width="14.50" height="9.6" fill="#ffffff" stroke="#3c3c3c" stroke-width="0.9"/>
<line x1="467.7" y1="198.92" x2="467.7" y2="208.52" stroke="#000" stroke-width="1.8"/>
<text x="401.3" y="206.02" text-anchor="end" font-size="8.5" stroke="#111" stroke-width="0.3">Snow</text>
<line x1="408.5" y1="215.98" x2="412.6" y2="215.98" stroke="#4c4c4c" stroke-width="1.1"/>
<line x1="456.5" y1="215.98" x2="465.5" y2="215.98" stroke="#444" stroke-width="0.8" stroke-dasharray="2 1.4"/>
<line x1="474.5" y1="215.98" x2="481.2" y2="215.98" stroke="#444" stroke-width="0.8" stroke-dasharray="2 1.4"/>
<line x1="456.5" y1="213.08" x2="456.5" y2="218.88" stroke="#444" stroke-width="0.8"/>
<line x1="481.2" y1="213.08" x2="481.2" y2="218.88" stroke="#444" stroke-width="0.8"/>
<rect x="465.5" y="211.18" width="9.00" height="9.6" fill="#ffffff" stroke="#3c3c3c" stroke-width="0.9"/>
<line x1="471.7" y1="211.18" x2="471.7" y2="220.78" stroke="#000" stroke-width="1.8"/>
<text x="401.3" y="218.28" text-anchor="end" font-size="8.5" stroke="#111" stroke-width="0.3">AP<tspan dy="1.6" font-size="5.8" stroke-width="0.25">dif</tspan></text>
<line x1="408.5" y1="228.24" x2="412.6" y2="228.24" stroke="#4c4c4c" stroke-width="1.1"/>
<line x1="463.7" y1="228.24" x2="468.5" y2="228.24" stroke="#444" stroke-width="0.8" stroke-dasharray="2 1.4"/>
<line x1="474.5" y1="228.24" x2="483" y2="228.24" stroke="#444" stroke-width="0.8" stroke-dasharray="2 1.4"/>
<line x1="463.7" y1="225.34" x2="463.7" y2="231.14" stroke="#444" stroke-width="0.8"/>
<line x1="483" y1="225.34" x2="483" y2="231.14" stroke="#444" stroke-width="0.8"/>
<rect x="468.5" y="223.44" width="6.00" height="9.6" fill="#ffffff" stroke="#3c3c3c" stroke-width="0.9"/>
<line x1="471.7" y1="223.44" x2="471.7" y2="233.04" stroke="#000" stroke-width="1.8"/>
<circle cx="455" cy="228.24" r="1.45" fill="none" stroke="#484848" stroke-width="0.8"/>
<circle cx="488" cy="228.24" r="1.45" fill="none" stroke="#484848" stroke-width="0.8"/>
<circle cx="491.8" cy="228.24" r="1.45" fill="none" stroke="#484848" stroke-width="0.8"/>
<text x="401.3" y="230.54" text-anchor="end" font-size="8.5" stroke="#111" stroke-width="0.3">Q2</text>
<line x1="408.5" y1="240.50" x2="412.6" y2="240.50" stroke="#4c4c4c" stroke-width="1.1"/>
<line x1="458.5" y1="240.50" x2="466.3" y2="240.50" stroke="#444" stroke-width="0.8" stroke-dasharray="2 1.4"/>
<line x1="476.5" y1="240.50" x2="486.5" y2="240.50" stroke="#444" stroke-width="0.8" stroke-dasharray="2 1.4"/>
<line x1="458.5" y1="237.60" x2="458.5" y2="243.40" stroke="#444" stroke-width="0.8"/>
<line x1="486.5" y1="237.60" x2="486.5" y2="243.40" stroke="#444" stroke-width="0.8"/>
<rect x="466.3" y="235.70" width="10.20" height="9.6" fill="#ffffff" stroke="#3c3c3c" stroke-width="0.9"/>
<line x1="472" y1="235.70" x2="472" y2="245.30" stroke="#000" stroke-width="1.8"/>
<circle cx="449.7" cy="240.50" r="1.45" fill="none" stroke="#484848" stroke-width="0.8"/>
<text x="401.3" y="242.80" text-anchor="end" font-size="8.5" stroke="#111" stroke-width="0.3">WD<tspan dy="1.6" font-size="5.8" stroke-width="0.25">Thu</tspan></text>
<line x1="408.5" y1="252.76" x2="412.6" y2="252.76" stroke="#4c4c4c" stroke-width="1.1"/>
<line x1="457.5" y1="252.76" x2="471.2" y2="252.76" stroke="#444" stroke-width="0.8" stroke-dasharray="2 1.4"/>
<line x1="481.2" y1="252.76" x2="493" y2="252.76" stroke="#444" stroke-width="0.8" stroke-dasharray="2 1.4"/>
<line x1="457.5" y1="249.86" x2="457.5" y2="255.66" stroke="#444" stroke-width="0.8"/>
<line x1="493" y1="249.86" x2="493" y2="255.66" stroke="#444" stroke-width="0.8"/>
<rect x="471.2" y="247.96" width="10.00" height="9.6" fill="#c1c1c1" stroke="#6a6a6a" stroke-width="0.9"/>
<line x1="475.8" y1="247.96" x2="475.8" y2="257.56" stroke="#000" stroke-width="1.8"/>
<text x="401.3" y="255.06" text-anchor="end" font-size="8.5" stroke="#111" stroke-width="0.3">WD<tspan dy="1.6" font-size="5.8" stroke-width="0.25">Fri</tspan></text>
<line x1="408.5" y1="265.02" x2="412.6" y2="265.02" stroke="#4c4c4c" stroke-width="1.1"/>
<line x1="457.5" y1="265.02" x2="471.2" y2="265.02" stroke="#444" stroke-width="0.8" stroke-dasharray="2 1.4"/>
<line x1="483.5" y1="265.02" x2="496.7" y2="265.02" stroke="#444" stroke-width="0.8" stroke-dasharray="2 1.4"/>
<line x1="457.5" y1="262.12" x2="457.5" y2="267.92" stroke="#444" stroke-width="0.8"/>
<line x1="496.7" y1="262.12" x2="496.7" y2="267.92" stroke="#444" stroke-width="0.8"/>
<rect x="471.2" y="260.22" width="12.30" height="9.6" fill="#c1c1c1" stroke="#6a6a6a" stroke-width="0.9"/>
<line x1="477.5" y1="260.22" x2="477.5" y2="269.82" stroke="#000" stroke-width="1.8"/>
<text x="401.3" y="267.32" text-anchor="end" font-size="8.5" stroke="#111" stroke-width="0.3">Q4</text>
<line x1="408.5" y1="277.28" x2="412.6" y2="277.28" stroke="#4c4c4c" stroke-width="1.1"/>
<line x1="463.3" y1="277.28" x2="473.3" y2="277.28" stroke="#444" stroke-width="0.8" stroke-dasharray="2 1.4"/>
<line x1="483.3" y1="277.28" x2="497.3" y2="277.28" stroke="#444" stroke-width="0.8" stroke-dasharray="2 1.4"/>
<line x1="463.3" y1="274.38" x2="463.3" y2="280.18" stroke="#444" stroke-width="0.8"/>
<line x1="497.3" y1="274.38" x2="497.3" y2="280.18" stroke="#444" stroke-width="0.8"/>
<rect x="473.3" y="272.48" width="10.00" height="9.6" fill="#c1c1c1" stroke="#6a6a6a" stroke-width="0.9"/>
<line x1="477.8" y1="272.48" x2="477.8" y2="282.08" stroke="#000" stroke-width="1.8"/>
<text x="401.3" y="279.58" text-anchor="end" font-size="9.0" font-weight="bold" stroke="#111" stroke-width="0.5">Shadow<tspan dy="1.6" font-size="6.0" stroke-width="0.25">max</tspan></text>
<path d="M344.9 274.78 L348.9 277.28 L344.9 279.78 Z" fill="none" stroke="#222" stroke-width="0.9"/>
<line x1="408.5" y1="289.54" x2="412.6" y2="289.54" stroke="#4c4c4c" stroke-width="1.1"/>
<line x1="461.3" y1="289.54" x2="475.5" y2="289.54" stroke="#444" stroke-width="0.8" stroke-dasharray="2 1.4"/>
<line x1="485.5" y1="289.54" x2="498.5" y2="289.54" stroke="#444" stroke-width="0.8" stroke-dasharray="2 1.4"/>
<line x1="461.3" y1="286.64" x2="461.3" y2="292.44" stroke="#444" stroke-width="0.8"/>
<line x1="498.5" y1="286.64" x2="498.5" y2="292.44" stroke="#444" stroke-width="0.8"/>
<rect x="475.5" y="284.74" width="10.00" height="9.6" fill="#c1c1c1" stroke="#6a6a6a" stroke-width="0.9"/>
<line x1="480" y1="284.74" x2="480" y2="294.34" stroke="#000" stroke-width="1.8"/>
<text x="401.3" y="291.84" text-anchor="end" font-size="8.5" stroke="#111" stroke-width="0.3">Q3</text>
<line x1="408.5" y1="301.80" x2="412.6" y2="301.80" stroke="#4c4c4c" stroke-width="1.1"/>
<line x1="462.5" y1="301.80" x2="477.5" y2="301.80" stroke="#444" stroke-width="0.8" stroke-dasharray="2 1.4"/>
<line x1="488.7" y1="301.80" x2="504.3" y2="301.80" stroke="#444" stroke-width="0.8" stroke-dasharray="2 1.4"/>
<line x1="462.5" y1="298.90" x2="462.5" y2="304.70" stroke="#444" stroke-width="0.8"/>
<line x1="504.3" y1="298.90" x2="504.3" y2="304.70" stroke="#444" stroke-width="0.8"/>
<rect x="477.5" y="297.00" width="11.20" height="9.6" fill="#7c7c7c" stroke="#4e4e4e" stroke-width="0.9"/>
<line x1="482.2" y1="297.00" x2="482.2" y2="306.60" stroke="#000" stroke-width="1.8"/>
<circle cx="506.3" cy="301.80" r="1.45" fill="none" stroke="#484848" stroke-width="0.8"/>
<circle cx="508.3" cy="301.80" r="1.45" fill="none" stroke="#484848" stroke-width="0.8"/>
<text x="401.3" y="304.10" text-anchor="end" font-size="8.5" stroke="#111" stroke-width="0.3">T<tspan dy="1.6" font-size="5.8" stroke-width="0.25">dif</tspan></text>
<line x1="408.5" y1="314.06" x2="412.6" y2="314.06" stroke="#4c4c4c" stroke-width="1.1"/>
<line x1="470.5" y1="314.06" x2="481.2" y2="314.06" stroke="#444" stroke-width="0.8" stroke-dasharray="2 1.4"/>
<line x1="491.3" y1="314.06" x2="504.7" y2="314.06" stroke="#444" stroke-width="0.8" stroke-dasharray="2 1.4"/>
<line x1="470.5" y1="311.16" x2="470.5" y2="316.96" stroke="#444" stroke-width="0.8"/>
<line x1="504.7" y1="311.16" x2="504.7" y2="316.96" stroke="#444" stroke-width="0.8"/>
<rect x="481.2" y="309.26" width="10.10" height="9.6" fill="#7c7c7c" stroke="#4e4e4e" stroke-width="0.9"/>
<line x1="486.3" y1="309.26" x2="486.3" y2="318.86" stroke="#000" stroke-width="1.8"/>
<circle cx="465.7" cy="314.06" r="1.45" fill="none" stroke="#484848" stroke-width="0.8"/>
<circle cx="507.5" cy="314.06" r="1.45" fill="none" stroke="#484848" stroke-width="0.8"/>
<circle cx="507.9" cy="314.06" r="1.45" fill="none" stroke="#484848" stroke-width="0.8"/>
<text x="401.3" y="316.36" text-anchor="end" font-size="8.5" stroke="#111" stroke-width="0.3">W<tspan dy="1.6" font-size="5.8" stroke-width="0.25">dif</tspan></text>
<line x1="408.5" y1="326.32" x2="412.6" y2="326.32" stroke="#4c4c4c" stroke-width="1.1"/>
<line x1="468.3" y1="326.32" x2="483.3" y2="326.32" stroke="#444" stroke-width="0.8" stroke-dasharray="2 1.4"/>
<line x1="494.7" y1="326.32" x2="508.3" y2="326.32" stroke="#444" stroke-width="0.8" stroke-dasharray="2 1.4"/>
<line x1="468.3" y1="323.42" x2="468.3" y2="329.22" stroke="#444" stroke-width="0.8"/>
<line x1="508.3" y1="323.42" x2="508.3" y2="329.22" stroke="#444" stroke-width="0.8"/>
<rect x="483.3" y="321.52" width="11.40" height="9.6" fill="#7c7c7c" stroke="#4e4e4e" stroke-width="0.9"/>
<line x1="489.5" y1="321.52" x2="489.5" y2="331.12" stroke="#000" stroke-width="1.8"/>
<circle cx="515.3" cy="326.32" r="1.45" fill="none" stroke="#484848" stroke-width="0.8"/>
<text x="401.3" y="328.62" text-anchor="end" font-size="8.5" stroke="#111" stroke-width="0.3">T<tspan dy="1.6" font-size="5.8" stroke-width="0.25">min</tspan></text>
<line x1="408.5" y1="338.58" x2="412.6" y2="338.58" stroke="#4c4c4c" stroke-width="1.1"/>
<line x1="469.3" y1="338.58" x2="483.8" y2="338.58" stroke="#444" stroke-width="0.8" stroke-dasharray="2 1.4"/>
<line x1="494.3" y1="338.58" x2="506.7" y2="338.58" stroke="#444" stroke-width="0.8" stroke-dasharray="2 1.4"/>
<line x1="469.3" y1="335.68" x2="469.3" y2="341.48" stroke="#444" stroke-width="0.8"/>
<line x1="506.7" y1="335.68" x2="506.7" y2="341.48" stroke="#444" stroke-width="0.8"/>
<rect x="483.8" y="333.78" width="10.50" height="9.6" fill="#7c7c7c" stroke="#4e4e4e" stroke-width="0.9"/>
<line x1="490.3" y1="333.78" x2="490.3" y2="343.38" stroke="#000" stroke-width="1.8"/>
<circle cx="460.2" cy="338.58" r="1.45" fill="none" stroke="#484848" stroke-width="0.8"/>
<text x="401.3" y="340.88" text-anchor="end" font-size="8.5" stroke="#111" stroke-width="0.3">Q1</text>
<line x1="408.5" y1="350.84" x2="412.6" y2="350.84" stroke="#4c4c4c" stroke-width="1.1"/>
<line x1="473.5" y1="350.84" x2="491.8" y2="350.84" stroke="#444" stroke-width="0.8" stroke-dasharray="2 1.4"/>
<line x1="504.7" y1="350.84" x2="521.2" y2="350.84" stroke="#444" stroke-width="0.8" stroke-dasharray="2 1.4"/>
<line x1="473.5" y1="347.94" x2="473.5" y2="353.74" stroke="#444" stroke-width="0.8"/>
<line x1="521.2" y1="347.94" x2="521.2" y2="353.74" stroke="#444" stroke-width="0.8"/>
<rect x="491.8" y="346.04" width="12.90" height="9.6" fill="#7c7c7c" stroke="#4e4e4e" stroke-width="0.9"/>
<line x1="496.8" y1="346.04" x2="496.8" y2="355.64" stroke="#000" stroke-width="1.8"/>
<text x="401.3" y="353.14" text-anchor="end" font-size="8.5" stroke="#111" stroke-width="0.3">WD<tspan dy="1.6" font-size="5.8" stroke-width="0.25">Tue</tspan></text>
<line x1="408.5" y1="363.10" x2="412.6" y2="363.10" stroke="#4c4c4c" stroke-width="1.1"/>
<line x1="480.3" y1="363.10" x2="497.2" y2="363.10" stroke="#444" stroke-width="0.8" stroke-dasharray="2 1.4"/>
<line x1="509.5" y1="363.10" x2="521.2" y2="363.10" stroke="#444" stroke-width="0.8" stroke-dasharray="2 1.4"/>
<line x1="480.3" y1="360.20" x2="480.3" y2="366.00" stroke="#444" stroke-width="0.8"/>
<line x1="521.2" y1="360.20" x2="521.2" y2="366.00" stroke="#444" stroke-width="0.8"/>
<rect x="497.2" y="358.30" width="12.30" height="9.6" fill="#7c7c7c" stroke="#4e4e4e" stroke-width="0.9"/>
<line x1="504.3" y1="358.30" x2="504.3" y2="367.90" stroke="#000" stroke-width="1.8"/>
<text x="401.3" y="365.40" text-anchor="end" font-size="8.5" stroke="#111" stroke-width="0.3">PrevAdmin</text>
<line x1="408.5" y1="375.36" x2="412.6" y2="375.36" stroke="#4c4c4c" stroke-width="1.1"/>
<line x1="502" y1="375.36" x2="521.2" y2="375.36" stroke="#444" stroke-width="0.8" stroke-dasharray="2 1.4"/>
<line x1="537.7" y1="375.36" x2="550.8" y2="375.36" stroke="#444" stroke-width="0.8" stroke-dasharray="2 1.4"/>
<line x1="502" y1="372.46" x2="502" y2="378.26" stroke="#444" stroke-width="0.8"/>
<line x1="550.8" y1="372.46" x2="550.8" y2="378.26" stroke="#444" stroke-width="0.8"/>
<rect x="521.2" y="370.56" width="16.50" height="9.6" fill="#7c7c7c" stroke="#4e4e4e" stroke-width="0.9"/>
<line x1="531" y1="370.56" x2="531" y2="380.16" stroke="#000" stroke-width="1.8"/>
<circle cx="491.2" cy="375.36" r="1.45" fill="none" stroke="#484848" stroke-width="0.8"/>
<text x="401.3" y="377.66" text-anchor="end" font-size="8.5" stroke="#111" stroke-width="0.3">Rain</text>
<line x1="408.5" y1="387.62" x2="412.6" y2="387.62" stroke="#4c4c4c" stroke-width="1.1"/>
<line x1="511.3" y1="387.62" x2="528.3" y2="387.62" stroke="#444" stroke-width="0.8" stroke-dasharray="2 1.4"/>
<line x1="542.3" y1="387.62" x2="555.3" y2="387.62" stroke="#444" stroke-width="0.8" stroke-dasharray="2 1.4"/>
<line x1="511.3" y1="384.72" x2="511.3" y2="390.52" stroke="#444" stroke-width="0.8"/>
<line x1="555.3" y1="384.72" x2="555.3" y2="390.52" stroke="#444" stroke-width="0.8"/>
<rect x="528.3" y="382.82" width="14.00" height="9.6" fill="#7c7c7c" stroke="#4e4e4e" stroke-width="0.9"/>
<line x1="535" y1="382.82" x2="535" y2="392.42" stroke="#000" stroke-width="1.8"/>
<circle cx="507.5" cy="387.62" r="1.45" fill="none" stroke="#484848" stroke-width="0.8"/>
<text x="401.3" y="389.92" text-anchor="end" font-size="8.5" stroke="#111" stroke-width="0.3">Holiday</text>
<line x1="408.5" y1="399.88" x2="412.6" y2="399.88" stroke="#4c4c4c" stroke-width="1.1"/>
<line x1="578.5" y1="399.88" x2="599.4" y2="399.88" stroke="#444" stroke-width="0.8" stroke-dasharray="2 1.4"/>
<line x1="613.6" y1="399.88" x2="632.4" y2="399.88" stroke="#444" stroke-width="0.8" stroke-dasharray="2 1.4"/>
<line x1="578.5" y1="396.98" x2="578.5" y2="402.78" stroke="#444" stroke-width="0.8"/>
<line x1="632.4" y1="396.98" x2="632.4" y2="402.78" stroke="#444" stroke-width="0.8"/>
<rect x="599.4" y="395.08" width="14.20" height="9.6" fill="#7c7c7c" stroke="#4e4e4e" stroke-width="0.9"/>
<line x1="606.7" y1="395.08" x2="606.7" y2="404.68" stroke="#000" stroke-width="1.8"/>
<circle cx="569.7" cy="399.88" r="1.45" fill="none" stroke="#484848" stroke-width="0.8"/>
<circle cx="570.1" cy="399.88" r="1.45" fill="none" stroke="#484848" stroke-width="0.8"/>
<circle cx="576" cy="399.88" r="1.45" fill="none" stroke="#484848" stroke-width="0.8"/>
<text x="401.3" y="402.18" text-anchor="end" font-size="8.5" stroke="#111" stroke-width="0.3">WD<tspan dy="1.6" font-size="5.8" stroke-width="0.25">Mon</tspan></text>
<line x1="408.5" y1="412.14" x2="412.6" y2="412.14" stroke="#4c4c4c" stroke-width="1.1"/>
<line x1="579.4" y1="412.14" x2="601.3" y2="412.14" stroke="#444" stroke-width="0.8" stroke-dasharray="2 1.4"/>
<line x1="618.8" y1="412.14" x2="640.4" y2="412.14" stroke="#444" stroke-width="0.8" stroke-dasharray="2 1.4"/>
<line x1="579.4" y1="409.24" x2="579.4" y2="415.04" stroke="#444" stroke-width="0.8"/>
<line x1="640.4" y1="409.24" x2="640.4" y2="415.04" stroke="#444" stroke-width="0.8"/>
<rect x="601.3" y="407.34" width="17.50" height="9.6" fill="#7c7c7c" stroke="#4e4e4e" stroke-width="0.9"/>
<line x1="613.9" y1="407.34" x2="613.9" y2="416.94" stroke="#000" stroke-width="1.8"/>
<circle cx="570.7" cy="412.14" r="1.45" fill="none" stroke="#484848" stroke-width="0.8"/>
<circle cx="574.2" cy="412.14" r="1.45" fill="none" stroke="#484848" stroke-width="0.8"/>
<text x="401.3" y="414.44" text-anchor="end" font-size="8.5" stroke="#111" stroke-width="0.3">WD<tspan dy="1.6" font-size="5.8" stroke-width="0.25">Sat</tspan></text>
<line x1="408.5" y1="424.40" x2="412.6" y2="424.40" stroke="#4c4c4c" stroke-width="1.1"/>
<line x1="600.8" y1="424.40" x2="627.4" y2="424.40" stroke="#444" stroke-width="0.8" stroke-dasharray="2 1.4"/>
<line x1="646.6" y1="424.40" x2="665.4" y2="424.40" stroke="#444" stroke-width="0.8" stroke-dasharray="2 1.4"/>
<line x1="600.8" y1="421.50" x2="600.8" y2="427.30" stroke="#444" stroke-width="0.8"/>
<line x1="665.4" y1="421.50" x2="665.4" y2="427.30" stroke="#444" stroke-width="0.8"/>
<rect x="627.4" y="419.60" width="19.20" height="9.6" fill="#7c7c7c" stroke="#4e4e4e" stroke-width="0.9"/>
<line x1="638.1" y1="419.60" x2="638.1" y2="429.20" stroke="#000" stroke-width="1.8"/>
<text x="401.3" y="426.70" text-anchor="end" font-size="8.5" stroke="#111" stroke-width="0.3">WD<tspan dy="1.6" font-size="5.8" stroke-width="0.25">Sun</tspan></text>
<line x1="412" y1="14.3" x2="674" y2="14.3" stroke="#222" stroke-width="0.9"/>
<path d="M671 11.8 L677 14.3 L671 16.8 Z" fill="#111"/>
<line x1="423.90" y1="31.4" x2="423.90" y2="35.3" stroke="#4c4c4c" stroke-width="0.9"/>
<text x="423.90" y="26.2" text-anchor="middle" font-size="8.8" stroke="#111" stroke-width="0.3">-5</text>
<line x1="458.45" y1="31.4" x2="458.45" y2="35.3" stroke="#4c4c4c" stroke-width="0.9"/>
<text x="458.45" y="26.2" text-anchor="middle" font-size="8.8" stroke="#111" stroke-width="0.3">0</text>
<line x1="493.00" y1="31.4" x2="493.00" y2="35.3" stroke="#4c4c4c" stroke-width="0.9"/>
<text x="493.00" y="26.2" text-anchor="middle" font-size="8.8" stroke="#111" stroke-width="0.3">5</text>
<line x1="527.55" y1="31.4" x2="527.55" y2="35.3" stroke="#4c4c4c" stroke-width="0.9"/>
<text x="527.55" y="26.2" text-anchor="middle" font-size="8.8" stroke="#111" stroke-width="0.3">10</text>
<line x1="562.10" y1="31.4" x2="562.10" y2="35.3" stroke="#4c4c4c" stroke-width="0.9"/>
<text x="562.10" y="26.2" text-anchor="middle" font-size="8.8" stroke="#111" stroke-width="0.3">15</text>
<line x1="596.65" y1="31.4" x2="596.65" y2="35.3" stroke="#4c4c4c" stroke-width="0.9"/>
<text x="596.65" y="26.2" text-anchor="middle" font-size="8.8" stroke="#111" stroke-width="0.3">20</text>
<line x1="631.20" y1="31.4" x2="631.20" y2="35.3" stroke="#4c4c4c" stroke-width="0.9"/>
<text x="631.20" y="26.2" text-anchor="middle" font-size="8.8" stroke="#111" stroke-width="0.3">25</text>
<line x1="665.75" y1="31.4" x2="665.75" y2="35.3" stroke="#4c4c4c" stroke-width="0.9"/>
<text x="665.75" y="26.2" text-anchor="middle" font-size="8.8" stroke="#111" stroke-width="0.3">30</text>
<text x="535" y="5.8" text-anchor="middle" font-size="9.0" stroke="#111" stroke-width="0.3">Importance</text>
<rect x="64.4" y="450.8" width="13.9" height="11.0" fill="#ffffff" stroke="#505050" stroke-width="0.9"/>
<text x="87.7" y="454.2" font-size="8.8" stroke="#111" stroke-width="0.3">rejected</text>
<text x="87.7" y="464.0" font-size="8.8" stroke="#111" stroke-width="0.3">feature</text>
<rect x="153.8" y="450.8" width="13.9" height="11.0" fill="#c1c1c1" stroke="#505050" stroke-width="0.9"/>
<text x="176.8" y="454.2" font-size="8.8" stroke="#111" stroke-width="0.3">potential</text>
<text x="176.8" y="464.0" font-size="8.8" stroke="#111" stroke-width="0.3">feature</text>
<rect x="243.8" y="450.8" width="13.9" height="11.0" fill="#7c7c7c" stroke="#505050" stroke-width="0.9"/>
<text x="267.7" y="454.2" font-size="8.8" stroke="#111" stroke-width="0.3">confirmed</text>
<text x="267.7" y="464.0" font-size="8.8" stroke="#111" stroke-width="0.3">feature</text>
<rect x="411.2" y="454.7" width="13.9" height="11.0" fill="#ffffff" stroke="#505050" stroke-width="0.9"/>
<text x="434.4" y="458.2" font-size="8.8" stroke="#111" stroke-width="0.3">rejected</text>
<text x="434.4" y="468.0" font-size="8.8" stroke="#111" stroke-width="0.3">feature</text>
<rect x="501.6" y="454.7" width="13.9" height="11.0" fill="#c1c1c1" stroke="#505050" stroke-width="0.9"/>
<text x="525.2" y="458.2" font-size="8.8" stroke="#111" stroke-width="0.3">potential</text>
<text x="525.2" y="468.0" font-size="8.8" stroke="#111" stroke-width="0.3">feature</text>
<rect x="593.2" y="454.7" width="13.9" height="11.0" fill="#7c7c7c" stroke="#505050" stroke-width="0.9"/>
<text x="616.9" y="458.2" font-size="8.8" stroke="#111" stroke-width="0.3">confirmed</text>
<text x="616.9" y="468.0" font-size="8.8" stroke="#111" stroke-width="0.3">feature</text>
<text x="64.9" y="486.0" font-size="14.5" font-weight="bold" textLength="18.4" lengthAdjust="spacingAndGlyphs" stroke="#111" stroke-width="0.3">(a)</text><text x="90.3" y="486.0" font-size="14.5" textLength="177.9" lengthAdjust="spacingAndGlyphs" stroke="#111" stroke-width="0.15">Trauma surgery department</text>
<text x="404.8" y="488.2" font-size="14.5" font-weight="bold" textLength="19.4" lengthAdjust="spacingAndGlyphs" stroke="#111" stroke-width="0.3">(b)</text><text x="432.2" y="488.2" font-size="14.5" textLength="183.7" lengthAdjust="spacingAndGlyphs" stroke="#111" stroke-width="0.15">Gastroenterology department</text>
</svg>
</body></html>
